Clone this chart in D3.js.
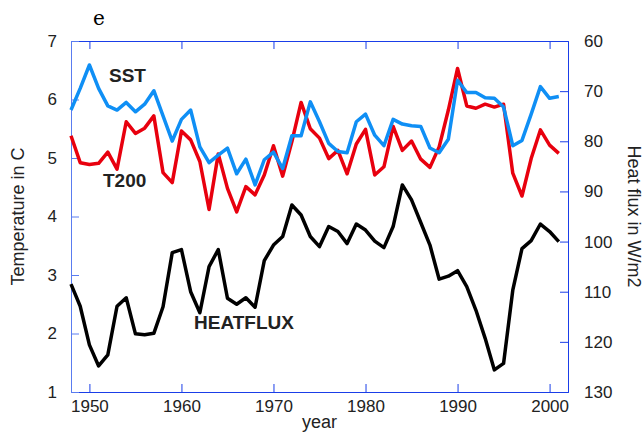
<!DOCTYPE html>
<html><head><meta charset="utf-8">
<script src="https://cdn.jsdelivr.net/npm/d3@7"></script>
<style>body{margin:0;background:#fff}text{font-family:"Liberation Sans",Arial,sans-serif}</style>
</head><body><svg id="c" width="644" height="432"></svg>
<script>
const years = d3.range(1948, 2002);
const sst = [5.82,6.19,6.59,6.19,5.89,5.82,5.95,5.79,5.92,6.15,5.72,5.29,5.66,5.82,5.19,4.92,5.05,5.17,4.73,4.98,4.54,4.97,5.10,4.82,5.38,5.38,5.96,5.62,5.25,5.11,5.09,5.62,5.75,5.39,5.21,5.66,5.58,5.55,5.54,5.17,5.09,5.32,6.33,6.12,6.12,6.03,6.02,5.87,5.21,5.30,5.75,6.22,6.02,6.05];
const t200 = [5.38,4.92,4.89,4.91,5.10,4.81,5.62,5.42,5.51,5.72,4.75,4.58,5.46,5.31,4.94,4.12,5.07,4.48,4.08,4.51,4.37,4.71,5.21,4.69,5.28,5.95,5.50,5.34,4.99,5.13,4.73,5.24,5.49,4.71,4.85,5.54,5.13,5.29,4.98,4.84,5.19,5.82,6.53,5.89,5.85,5.92,5.87,5.92,4.74,4.35,4.99,5.48,5.22,5.08];
const heatflux = [108.5,112.9,120.6,124.8,122.6,112.9,111.2,118.4,118.6,118.3,113.0,102.2,101.6,110.0,114.2,105.0,101.6,111.3,112.5,111.2,113.1,103.8,100.7,99.0,92.7,94.7,99.0,101.0,97.0,98.0,100.4,96.5,97.7,99.9,101.2,97.0,88.7,91.7,96.2,100.7,107.5,106.9,105.8,109.0,113.7,119.3,125.6,124.3,109.7,101.4,99.8,96.5,98.0,100.0];
const yearTicks = [1950,1960,1970,1980,1990,2000];
const tempTicks = [1,2,3,4,5,6,7];
const fluxTicks = [60,70,80,90,100,110,120,130];

const L=71,R=568,T=41,B=392;
const svg=d3.select("#c");
const x=d3.scaleLinear().domain([1948,2002]).range([L,R]);
const yT=d3.scaleLinear().domain([1,7]).range([B,T]);
const yH=d3.scaleLinear().domain([60,130]).range([T,B]);
const blue="#1a3ee8", lblue="#5a7cf0";

function ax(gen,tr,col,major,minor,fs,pad){
  const g=svg.append("g").attr("transform",tr);
  g.call(gen(minor).tickSize(-4).tickFormat(""));
  g.call(gen(major).tickSize(-8).tickPadding(pad).tickFormat(d3.format("d")));
  g.selectAll("path,line").attr("stroke",col);
  g.selectAll("text").attr("font-size",fs).attr("fill","#222");
  return g;
}
const minX=d3.range(1948,2003,2), minT=d3.range(1,7.01,0.2), minH=d3.range(60,131,2);
ax(v=>d3.axisBottom(x).tickValues(v),`translate(0,${B})`,blue,yearTicks,minX,17,8);
ax(v=>d3.axisTop(x).tickValues(v),`translate(0,${T})`,blue,yearTicks,minX,0,8).selectAll("text").remove();
ax(v=>d3.axisLeft(yT).tickValues(v),`translate(${L},0)`,lblue,tempTicks,minT,17,14);
ax(v=>d3.axisRight(yH).tickValues(v),`translate(${R},0)`,blue,fluxTicks,minH,17,16);

const line=(ys)=>d3.line().x((d,i)=>x(years[i])).y(d=>ys(d));
svg.append("path").datum(heatflux).attr("d",line(yH)).attr("fill","none").attr("stroke","#000").attr("stroke-width",3.5).attr("stroke-linejoin","round");
svg.append("path").datum(t200).attr("d",line(yT)).attr("fill","none").attr("stroke","#e8000e").attr("stroke-width",3.5).attr("stroke-linejoin","round");
svg.append("path").datum(sst).attr("d",line(yT)).attr("fill","none").attr("stroke","#0f8ff5").attr("stroke-width",3.5).attr("stroke-linejoin","round");

const lab=(t,px,py)=>svg.append("text").attr("x",px).attr("y",py).attr("font-size",19).attr("font-weight","bold").attr("fill","#222").text(t);
lab("SST",109,82);lab("T200",103,187);lab("HEATFLUX",194,329);
svg.append("text").attr("x",93).attr("y",25).attr("font-size",20).style("font-family","'DejaVu Serif', serif").text("e");
svg.append("text").attr("x",(L+R)/2).attr("y",428).attr("text-anchor","middle").attr("font-size",18).attr("fill","#222").text("year");
svg.append("text").attr("transform",`translate(24,${(T+B)/2}) rotate(-90)`).attr("text-anchor","middle").attr("font-size",18).attr("fill","#222").text("Temperature in C");
svg.append("text").attr("transform",`translate(628,${(T+B)/2}) rotate(90)`).attr("text-anchor","middle").attr("font-size",18).attr("fill","#222").text("Heat flux in W/m2");
</script></body></html>
